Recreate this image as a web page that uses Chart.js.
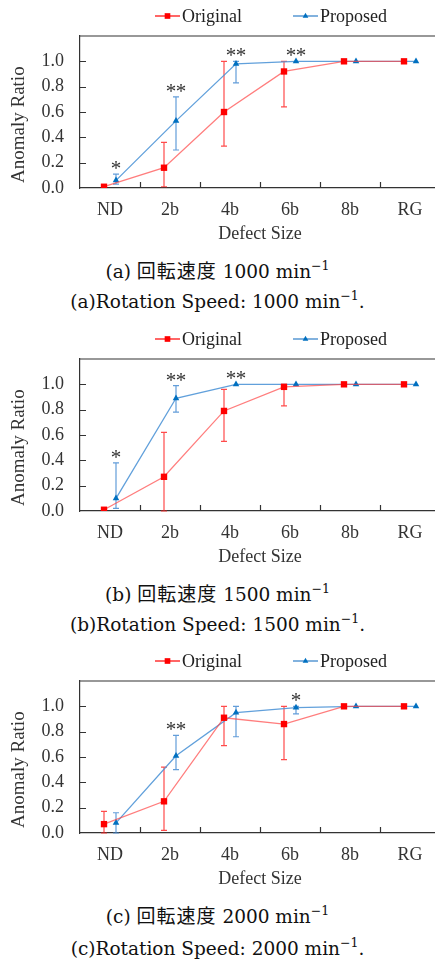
<!DOCTYPE html>
<html>
<head>
<meta charset="utf-8">
<script src="https://cdn.jsdelivr.net/npm/chart.js@4.4.1/dist/chart.umd.min.js"></script>
<style>
  html, body { margin: 0; padding: 0; background: #fff; width: 435px; height: 963px; overflow: hidden; }
  .panel { position: absolute; left: 0; width: 435px; height: 322px; }
  .panel canvas { position: absolute; left: 0; top: 0; }
  .cap {
    position: absolute; left: 0; width: 435px; text-align: center;
    font-family: "DejaVu Serif", serif; font-size: 18.5px; line-height: 22px;
    color: #111; white-space: nowrap;
  }
  .cap .jp { font-family: "Noto Sans CJK JP", sans-serif; font-size: 19px; letter-spacing: 1px; }
  .cap sup { font-size: 12.5px; vertical-align: 8px; line-height: 0; }
</style>
</head>
<body>
<div class="panel" style="top:0px">
  <canvas id="chartA" width="445" height="250"></canvas>
  <div class="cap" style="top:259px">(a) <span class="jp">回転速度</span> 1000 min<sup>−1</sup></div>
  <div class="cap" style="top:291px">(a)Rotation Speed: 1000 min<sup>−1</sup>.</div>
</div>
<div class="panel" style="top:323px">
  <canvas id="chartB" width="445" height="250"></canvas>
  <div class="cap" style="top:259px">(b) <span class="jp">回転速度</span> 1500 min<sup>−1</sup></div>
  <div class="cap" style="top:291px">(b)Rotation Speed: 1500 min<sup>−1</sup>.</div>
</div>
<div class="panel" style="top:645px">
  <canvas id="chartC" width="445" height="250"></canvas>
  <div class="cap" style="top:259px">(c) <span class="jp">回転速度</span> 2000 min<sup>−1</sup></div>
  <div class="cap" style="top:293px">(c)Rotation Speed: 2000 min<sup>−1</sup>.</div>
</div>
<script>
// kategori sumbu x
const categories = ["ND", "2b", "4b", "6b", "8b", "RG"];
const seriesNames = ["Original", "Proposed"];
const yTicks = [0, 0.2, 0.4, 0.6, 0.8, 1.0];

// (a) 1000 min-1
const orig1000 = [0.01, 0.16, 0.60, 0.92, 1.0, 1.0];
const orig1000Low = [0.01, 0.01, 0.33, 0.64, 1.0, 1.0];
const orig1000High = [0.01, 0.36, 1.0, 1.0, 1.0, 1.0];
const prop1000 = [0.06, 0.53, 0.98, 1.0, 1.0, 1.0];
const prop1000Low = [0.03, 0.30, 0.83, 1.0, 1.0, 1.0];
const prop1000High = [0.11, 0.72, 1.0, 1.0, 1.0, 1.0];
const stars1000 = ["*", "**", "**", "**", "", ""];

// (b) 1500 min-1
const orig1500 = [0.01, 0.27, 0.79, 0.98, 1.0, 1.0];
const orig1500Low = [0.01, 0.0, 0.55, 0.83, 1.0, 1.0];
const orig1500High = [0.01, 0.62, 0.96, 1.0, 1.0, 1.0];
const prop1500 = [0.10, 0.89, 1.0, 1.0, 1.0, 1.0];
const prop1500Low = [0.02, 0.78, 1.0, 1.0, 1.0, 1.0];
const prop1500High = [0.38, 0.99, 1.0, 1.0, 1.0, 1.0];
const stars1500 = ["*", "**", "**", "", "", ""];

// (c) 2000 min-1
const orig2000 = [0.07, 0.25, 0.91, 0.86, 1.0, 1.0];
const orig2000Low = [0.0, 0.02, 0.69, 0.58, 1.0, 1.0];
const orig2000High = [0.17, 0.52, 1.0, 1.0, 1.0, 1.0];
const prop2000 = [0.08, 0.61, 0.95, 0.99, 1.0, 1.0];
const prop2000Low = [0.0, 0.50, 0.76, 0.94, 1.0, 1.0];
const prop2000High = [0.16, 0.77, 1.0, 1.0, 1.0, 1.0];
const stars2000 = ["", "**", "", "*", "", ""];

const serif = "'Liberation Serif', 'Times New Roman', serif";
const axisColor = "#333";

// Plugin: error bar, tanda bintang, legend, dan bingkai
const decorPlugin = {
  id: "decor",
  beforeDatasetsDraw(chart) {
    const ctx = chart.ctx;
    const yScale = chart.scales.y;
    chart.data.datasets.forEach((ds, di) => {
      const meta = chart.getDatasetMeta(di);
      ctx.save();
      ctx.strokeStyle = ds.errColor;
      ctx.lineWidth = 1.2;
      ds.data.forEach((pt, j) => {
        const lo = ds.errLow[j], hi = ds.errHigh[j];
        if (hi - lo < 0.005) return;
        const x = meta.data[j].x;
        const y1 = yScale.getPixelForValue(lo);
        const y2 = yScale.getPixelForValue(hi);
        ctx.beginPath();
        ctx.moveTo(x, y1); ctx.lineTo(x, y2);
        ctx.moveTo(x - 3, y1); ctx.lineTo(x + 3, y1);
        ctx.moveTo(x - 3, y2); ctx.lineTo(x + 3, y2);
        ctx.stroke();
      });
      ctx.restore();
    });
  },
  afterDraw(chart, args, opts) {
    const ctx = chart.ctx;
    const area = chart.chartArea;
    const xScale = chart.scales.x;
    const yScale = chart.scales.y;
    ctx.save();
    // bingkai atas
    ctx.strokeStyle = axisColor;
    ctx.lineWidth = 1.2;
    ctx.beginPath();
    ctx.moveTo(area.left, area.top);
    ctx.lineTo(area.right, area.top);
    ctx.stroke();
    // tick ke dalam
    ctx.beginPath();
    for (let i = 0; i < categories.length; i++) {
      const x = Math.round(xScale.getPixelForValue(i + 0.5)) + 0.5;
      ctx.moveTo(x, area.bottom);
      ctx.lineTo(x, area.bottom - 6);
    }
    yTicks.forEach((v) => {
      if (v === 0) return;
      const y = Math.round(yScale.getPixelForValue(v)) + 0.5;
      ctx.moveTo(area.left, y);
      ctx.lineTo(area.left + 6, y);
    });
    ctx.stroke();

    // judul sumbu y
    ctx.fillStyle = axisColor;
    ctx.font = "19px " + serif;
    ctx.textAlign = "center";
    ctx.textBaseline = "middle";
    ctx.save();
    ctx.translate(19, yScale.getPixelForValue(0.5));
    ctx.rotate(-Math.PI / 2);
    ctx.fillText("Anomaly Ratio", 0, 0);
    ctx.restore();

    // tanda signifikansi
    const [o, p] = chart.data.datasets;
    ctx.font = "21px " + serif;
    ctx.textBaseline = "alphabetic";
    opts.stars.forEach((s, j) => {
      if (!s) return;
      const top = Math.max(o.data[j].y, o.errHigh[j], p.data[j].y, p.errHigh[j]);
      const x = xScale.getPixelForValue(j + 0.1);
      const y = yScale.getPixelForValue(top) + 1;
      const gap = 10;
      for (let k = 0; k < s.length; k++) {
        ctx.fillText(s[k], x + (k - (s.length - 1) / 2) * gap, y);
      }
    });

    // legend
    const items = [
      { ds: o, x: 155 },
      { ds: p, x: 293 },
    ];
    const ly = 16;
    ctx.font = "18px " + serif;
    ctx.textAlign = "left";
    ctx.textBaseline = "middle";
    items.forEach(({ ds, x }) => {
      ctx.strokeStyle = ds.legendColor;
      ctx.lineWidth = 1.2;
      ctx.beginPath();
      ctx.moveTo(x, ly);
      ctx.lineTo(x + 25, ly);
      ctx.stroke();
      ctx.fillStyle = ds.pointBackgroundColor;
      Chart.helpers.drawPoint(ctx, {
        pointStyle: ds.pointStyle,
        radius: ds.pointStyle === "rect" ? 4 : 3.3,
        rotation: 0,
        borderWidth: 0,
      }, x + 12.5, ly);
      ctx.fillStyle = "#222";
      ctx.fillText(ds.label, x + 27, ly + 1);
    });
    ctx.restore();
  },
};

function makeChart(canvasId, orig, origLow, origHigh, prop, propLow, propHigh, stars) {
  const ctx = document.getElementById(canvasId).getContext("2d");
  return new Chart(ctx, {
    type: "line",
    data: {
      datasets: [
        {
          label: seriesNames[0],
          data: orig.map((v, i) => ({ x: i - 0.1, y: v })),
          errLow: origLow,
          errHigh: origHigh,
          errColor: "rgba(255,30,30,0.8)",
          legendColor: "#ff0000",
          borderColor: "rgba(255,70,70,0.7)",
          borderWidth: 1.3,
          pointStyle: "rect",
          pointRadius: 4.5,
          pointBackgroundColor: "#ff0000",
          pointBorderWidth: 0,
          tension: 0,
        },
        {
          label: seriesNames[1],
          data: prop.map((v, i) => ({ x: i + 0.1, y: v })),
          errLow: propLow,
          errHigh: propHigh,
          errColor: "rgba(70,140,210,0.85)",
          legendColor: "#2f7fc8",
          borderColor: "rgba(80,150,215,0.9)",
          borderWidth: 1.3,
          pointStyle: "triangle",
          pointRadius: 3.8,
          pointBackgroundColor: "#0070c0",
          pointBorderWidth: 0,
          tension: 0,
        },
      ],
    },
    options: {
      responsive: false,
      animation: false,
      devicePixelRatio: 1,
      layout: { padding: { top: 36, right: 5, left: 0, bottom: 0 } },
      plugins: {
        legend: { display: false },
        tooltip: { enabled: false },
        decor: { stars: stars },
      },
      scales: {
        x: {
          type: "linear",
          min: -0.5,
          max: 5.5,
          grid: { display: false, drawTicks: false },
          border: { display: true, color: axisColor, width: 1.2 },
          afterBuildTicks: (scale) => {
            scale.ticks = categories.map((c, i) => ({ value: i }));
          },
          afterFit: (scale) => {
            scale.height = 62;
            scale.paddingLeft = 0;
            scale.paddingRight = 0;
          },
          ticks: {
            autoSkip: false,
            maxRotation: 0,
            padding: 11,
            color: axisColor,
            font: { family: serif, size: 18 },
            callback: (v) => categories[Math.round(v)],
          },
          title: {
            display: true,
            text: "Defect Size",
            color: axisColor,
            font: { family: serif, size: 18 },
            padding: { top: 0, bottom: 5 },
          },
        },
        y: {
          min: 0,
          max: 1.2,
          grid: { display: false, drawTicks: false },
          border: { display: true, color: axisColor, width: 1.2 },
          afterBuildTicks: (scale) => {
            scale.ticks = yTicks.map((v) => ({ value: v }));
          },
          afterFit: (scale) => {
            scale.width = 80;
            scale.paddingTop = 0;
            scale.paddingBottom = 0;
          },
          ticks: {
            padding: 16,
            color: axisColor,
            font: { family: serif, size: 18 },
            callback: (v) => v.toFixed(1),
          },
        },
      },
    },
    plugins: [decorPlugin],
  });
}

var chartA = makeChart("chartA", orig1000, orig1000Low, orig1000High, prop1000, prop1000Low, prop1000High, stars1000);
var chartB = makeChart("chartB", orig1500, orig1500Low, orig1500High, prop1500, prop1500Low, prop1500High, stars1500);
var chartC = makeChart("chartC", orig2000, orig2000Low, orig2000High, prop2000, prop2000Low, prop2000High, stars2000);
</script>
</body>
</html>
